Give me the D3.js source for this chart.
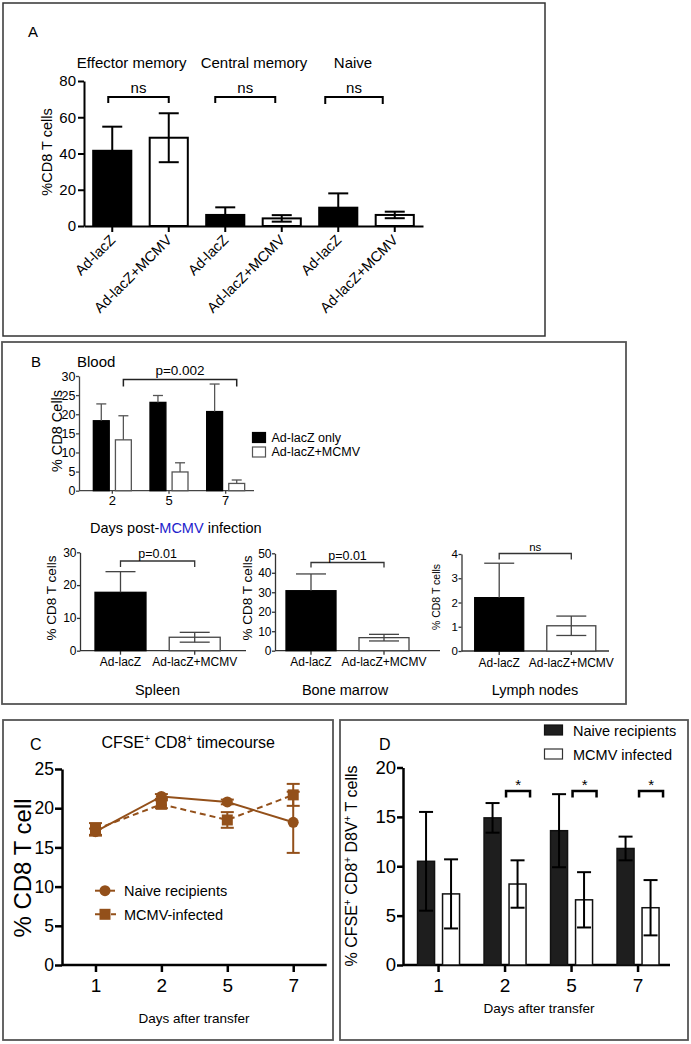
<!DOCTYPE html>
<html><head><meta charset="utf-8">
<script src="https://cdn.jsdelivr.net/npm/d3@7"></script>
<style>
body{margin:0;background:#fff;}
svg text{font-family:"Liberation Sans",Arial,Helvetica,sans-serif;fill:#000;}
</style></head><body>
<svg id="c" width="691" height="1044"></svg>
<script>
// ---------------- DATA ----------------
const aTitles = ["Effector memory","Central memory","Naive"];
const aLabels = ["Ad-lacZ","Ad-lacZ+MCMV","Ad-lacZ","Ad-lacZ+MCMV","Ad-lacZ","Ad-lacZ+MCMV"];
const aMeans = [41.5,48.7,6.1,4.2,10.1,6.1];
const aErrs  = [13.3,13.5,4.2,1.8,7.9,1.8];
const aYTicks = [0,20,40,60,80];
const aSig = ["ns","ns","ns"];

const bloodDays = ["2","5","7"];
const bloodLacZ = [18.3,23.1,20.7];
const bloodLacZErr = [4.4,1.8,7.2];
const bloodMCMV = [13.3,4.9,1.9];
const bloodMCMVErr = [6.3,2.4,0.9];
const bloodYTicks = [0,5,10,15,20,25,30];
const bloodSig = "p=0.002";
const bLegend = ["Ad-lacZ only","Ad-lacZ+MCMV"];

const organNames = ["Spleen","Bone marrow","Lymph nodes"];
const organGroups = ["Ad-lacZ","Ad-lacZ+MCMV"];
const spleenMeans = [17.8,4.1], spleenErrs = [6.3,1.5];
const marrowMeans = [30.8,6.7], marrowErrs = [8.6,1.7];
const lymphMeans  = [2.2,1.04], lymphErrs = [1.42,0.4];
const spleenTicks = [0,10,20,30], marrowTicks = [0,10,20,30,40,50], lymphTicks = [0,1,2,3,4];
const organSig = ["p=0.01","p=0.01","ns"];

const cDays = ["1","2","5","7"];
const cNaive = [17.0,21.5,20.8,18.2], cNaiveErr = [0.4,0.3,0.3,3.9];
const cMCMV  = [17.3,20.5,18.5,21.7], cMCMVErr  = [0.8,0.5,1.0,1.4];
const cYTicks = [0,5,10,15,20,25];
const cLegend = ["Naive recipients","MCMV-infected"];

const dDays = ["1","2","5","7"];
const dNaive = [10.5,14.9,13.6,11.8], dNaiveErr = [5.0,1.5,3.7,1.2];
const dMCMV  = [7.2,8.2,6.6,5.8],  dMCMVErr  = [3.5,2.4,2.8,2.8];
const dYTicks = [0,5,10,15,20];
const dSig = ["","*","*","*"];
const dLegend = ["Naive recipients","MCMV infected"];

// ---------------- HELPERS ----------------
const FONT = '"Liberation Sans",Arial,Helvetica,sans-serif';
const svg = d3.select("#c");
function box(x,y,w,h,col,sw){
  svg.append("rect").attr("x",x).attr("y",y).attr("width",w).attr("height",h)
    .attr("fill","none").attr("stroke",col).attr("stroke-width",sw);
}
function txt(g,x,y,s,size,anchor){
  return g.append("text").attr("x",x).attr("y",y).attr("text-anchor",anchor||"start")
    .style("font-size",size+"px").text(s);
}
function styleAxis(g,sw,fs,col){
  g.attr("font-family",FONT).attr("font-size",fs);
  g.select(".domain").attr("stroke",col||"#000").attr("stroke-width",sw);
  g.selectAll(".tick line").attr("stroke",col||"#000").attr("stroke-width",sw);
  g.selectAll(".tick text").attr("fill","#000");
}
function ylabel(g,x,y,s,size){
  return g.append("text").attr("transform",`translate(${x},${y}) rotate(-90)`)
    .attr("text-anchor","middle").style("font-size",size+"px").text(s);
}
// error bar: vertical line from yTop to yBot, cap at top; bottom cap only if capBottom
function errBar(g,cx,yTop,yBot,cap,col,sw,capBottom){
  g.append("line").attr("x1",cx).attr("x2",cx).attr("y1",yTop).attr("y2",yBot).attr("stroke",col).attr("stroke-width",sw);
  g.append("line").attr("x1",cx-cap/2).attr("x2",cx+cap/2).attr("y1",yTop).attr("y2",yTop).attr("stroke",col).attr("stroke-width",sw);
  if(capBottom) g.append("line").attr("x1",cx-cap/2).attr("x2",cx+cap/2).attr("y1",yBot).attr("y2",yBot).attr("stroke",col).attr("stroke-width",sw);
}
function bracket(g,x1,x2,y,leg,col,sw){
  g.append("path").attr("d",`M${x1},${y+leg}V${y}H${x2}V${y+leg}`)
    .attr("fill","none").attr("stroke",col).attr("stroke-width",sw);
}

// ---------------- PANEL A ----------------
box(3,3,542,333,"#333",1.5);
const A = svg.append("g");
txt(A,28,37,"A",15);
const aTitleX = [131.7,254,353];
aTitles.forEach((t,i)=>txt(A,aTitleX[i],68,t,15,"middle"));
const ay = d3.scaleLinear().domain([0,80]).range([226,81]);
const ax = d3.scaleBand().domain(d3.range(aMeans.length)).range([84,423]).paddingInner(0.29).paddingOuter(0.145);
A.append("g").attr("transform","translate(84,0)")
  .call(d3.axisLeft(ay).tickValues(aYTicks).tickSize(6).tickSizeOuter(0).tickPadding(2))
  .call(g=>styleAxis(g,2,15));
const axg = A.append("g").attr("transform","translate(0,226)")
  .call(d3.axisBottom(ax).tickSize(6).tickSizeOuter(0).tickFormat(i=>aLabels[i]))
  .call(g=>styleAxis(g,2,14.5));
axg.selectAll(".tick text").attr("y",null).attr("dy",null)
  .attr("transform","translate(4,15) rotate(-45)").attr("text-anchor","end");
aMeans.forEach((m,i)=>{
  A.append("rect").attr("x",ax(i)+1).attr("y",ay(m)).attr("width",ax.bandwidth()-2).attr("height",ay(0)-ay(m))
    .attr("fill",i%2?"#fff":"#000").attr("stroke","#000").attr("stroke-width",2);
  const cx = ax(i)+ax.bandwidth()/2;
  errBar(A,cx,ay(m+aErrs[i]),ay(m-aErrs[i]),20,"#000",2,true);
});
const aBrShiftL=[4,10,13], aBrShiftR=[0,6.5,12], aBrLeg=[6,6,7];
aSig.forEach((s,k)=>{
  const x1 = ax(2*k)+ax.bandwidth()/2 - aBrShiftL[k];
  const x2 = ax(2*k+1)+ax.bandwidth()/2 - aBrShiftR[k];
  bracket(A,x1,x2,97,aBrLeg[k],"#000",2);
  txt(A,(x1+x2)/2,93,s,15,"middle");
});
ylabel(A,52,152,"%CD8 T cells",14.5);

// ---------------- PANEL B ----------------
box(2,342,624,362,"#555",1.8);
const B = svg.append("g");
txt(B,31,367,"B",15);
txt(B,77,367,"Blood",15);
const by = d3.scaleLinear().domain([0,30]).range([490.7,376]);
const bx = d3.scaleBand().domain(bloodDays).range([84,254]);
const bsub = d3.scaleBand().domain([0,1]).range([-19,19]).paddingInner(0.28);
B.append("g").attr("transform","translate(79,0)")
  .call(d3.axisLeft(by).tickValues(bloodYTicks).tickSize(3).tickSizeOuter(0).tickPadding(0.5))
  .call(g=>styleAxis(g,1.3,12.5,"#444"));
const bxg = B.append("g").attr("transform","translate(0,490.7)")
  .call(d3.axisBottom(bx).tickSize(3).tickSizeOuter(0).tickPadding(2))
  .call(g=>styleAxis(g,1.3,13,"#444"));
bxg.select(".domain").attr("d","M79,0H254");
bloodDays.forEach((d,i)=>{
  const gc = bx(d)+bx.bandwidth()/2;
  [[bloodLacZ,bloodLacZErr,"#000"],[bloodMCMV,bloodMCMVErr,"#fff"]].forEach(([vals,errs,fill],j)=>{
    const x0 = gc+bsub(j);
    B.append("rect").attr("x",x0).attr("y",by(vals[i])).attr("width",bsub.bandwidth()).attr("height",by(0)-by(vals[i]))
      .attr("fill",fill).attr("stroke",j?"#555":"#000").attr("stroke-width",1.3);
    errBar(B,x0+bsub.bandwidth()/2,by(vals[i]+errs[i]),by(vals[i]),10,"#555",1.3,false);
  });
});
{
  const x1 = bx(bloodDays[0])+bx.bandwidth()/2+bsub(1)+bsub.bandwidth()/2;
  const x2 = bx(bloodDays[2])+bx.bandwidth()/2+bsub(1)+bsub.bandwidth()/2;
  bracket(B,x1,x2,379.5,7,"#222",1.5);
  txt(B,(x1+x2)/2,375,bloodSig,13.5,"middle");
}
ylabel(B,62,431,"% CD8 Cells",14.5);
const dpm = B.append("text").attr("x",90).attr("y",533).style("font-size","14.5px");
dpm.append("tspan").text("Days post-");
dpm.append("tspan").text("MCMV").style("fill","#2222cc");
dpm.append("tspan").text(" infection");
// legend
[["#000","#000"],["#fff","#555"]].forEach(([f,s],j)=>{
  B.append("rect").attr("x",252.5).attr("y",432.5+j*14.5).attr("width",13).attr("height",10)
    .attr("fill",f).attr("stroke",s).attr("stroke-width",1.2);
  txt(B,271.5,442+j*14,bLegend[j],12.5);
});

// organ sub-charts
const organData = [[spleenMeans,spleenErrs,spleenTicks],[marrowMeans,marrowErrs,marrowTicks],[lymphMeans,lymphErrs,lymphTicks]];
const organLayout = [
  {axisX:80, xr:[95,220.2], pi:0.313, xEnd:246, y0:650.7, yTop:552.3, labX:56, labY:598, labFs:13.5, tickFs:12, sigY:561, sigLeg:6, sigFs:12.5, nameX:157.5},
  {axisX:275, xr:[286,409], pi:0.315, xEnd:440, y0:650.7, yTop:553.3, labX:252, labY:598, labFs:13.5, tickFs:12, sigY:562.5, sigLeg:5, sigFs:12.5, nameX:345},
  {axisX:461.5, xr:[474.7,595.8], pi:0.32, xEnd:609, y0:651, yTop:554, labX:440, labY:597, labFs:10.5, tickFs:11.5, sigY:553.5, sigLeg:6, sigFs:11.5, nameX:535}
];
organData.forEach(([means,errs,ticks],k)=>{
  const L = organLayout[k];
  const g = B.append("g");
  const y = d3.scaleLinear().domain([0,d3.max(ticks)]).range([L.y0,L.yTop]);
  const x = d3.scaleBand().domain(organGroups).range(L.xr).paddingInner(L.pi);
  g.append("g").attr("transform",`translate(${L.axisX},0)`)
    .call(d3.axisLeft(y).tickValues(ticks).tickFormat(d3.format("d")).tickSize(3).tickSizeOuter(0).tickPadding(0.5))
    .call(a=>styleAxis(a,1.3,L.tickFs,"#333"));
  const xg = g.append("g").attr("transform",`translate(0,${L.y0})`)
    .call(d3.axisBottom(x).tickSize(4).tickSizeOuter(0).tickPadding(3))
    .call(a=>styleAxis(a,1.3,12,"#333"));
  xg.select(".domain").attr("d",`M${L.axisX},0H${L.xEnd}`);
  organGroups.forEach((grp,j)=>{
    const cx = x(grp)+x.bandwidth()/2;
    g.append("rect").attr("x",x(grp)).attr("y",y(means[j])).attr("width",x.bandwidth()).attr("height",y(0)-y(means[j]))
      .attr("fill",j?"#fff":"#000").attr("stroke",j?"#444":"#000").attr("stroke-width",1.3);
    errBar(g,cx,y(means[j]+errs[j]),j?y(means[j]-errs[j]):y(means[j]),30,"#444",1.3,!!j);
  });
  const x1 = x(organGroups[0])+x.bandwidth()/2, x2 = x(organGroups[1])+x.bandwidth()/2;
  bracket(g,x1,x2,L.sigY,L.sigLeg,"#333",1.3);
  txt(g,(x1+x2)/2,L.sigY-3,organSig[k],L.sigFs,"middle");
  ylabel(g,L.labX,L.labY,"% CD8 T cells",L.labFs);
  txt(g,L.nameX,695,organNames[k],14.5,"middle");
});

// ---------------- PANEL C ----------------
box(3,720,330,320,"#555",1.8);
const C = svg.append("g");
const BROWN = "#93501a";
txt(C,30,750,"C",16);
const ct = C.append("text").attr("x",101.5).attr("y",748).style("font-size","16px");
ct.append("tspan").text("CFSE");
ct.append("tspan").text("+").attr("dy",-6).style("font-size","10px");
ct.append("tspan").text(" CD8").attr("dy",6);
ct.append("tspan").text("+").attr("dy",-6).style("font-size","10px");
ct.append("tspan").text(" timecourse").attr("dy",6);
const cy = d3.scaleLinear().domain([0,25]).range([965,769]);
const cx = d3.scalePoint().domain(cDays).range([62,326.7]).padding(0.508);
C.append("g").attr("transform","translate(62,0)")
  .call(d3.axisLeft(cy).tickValues(cYTicks).tickSize(7).tickSizeOuter(0).tickPadding(1))
  .call(g=>styleAxis(g,2.5,17.5));
const cxg = C.append("g").attr("transform","translate(0,965)")
  .call(d3.axisBottom(cx).tickSize(7).tickSizeOuter(0).tickPadding(7))
  .call(g=>styleAxis(g,2.5,19));
cxg.select(".domain").attr("d","M62,0H326.7");
ylabel(C,31,868,"% CD8 T cell",24);
txt(C,194,1023,"Days after transfer",13.5,"middle");
const series = [[cNaive,cNaiveErr,null,"circle"],[cMCMV,cMCMVErr,"6,4","square"]];
series.forEach(([vals,errs,dash])=>{
  const pts = cDays.map((d,i)=>({d,v:vals[i],e:errs[i]}));
  C.append("path").datum(pts).attr("d",d3.line().x(p=>cx(p.d)).y(p=>cy(p.v)))
    .attr("fill","none").attr("stroke",BROWN).attr("stroke-width",2).attr("stroke-dasharray",dash);
});
series.forEach(([vals,errs,dash,shape])=>{
  cDays.forEach((d,i)=>{
    errBar(C,cx(d),cy(vals[i]+errs[i]),cy(vals[i]-errs[i]),13,BROWN,2,true);
    if(shape==="circle") C.append("circle").attr("cx",cx(d)).attr("cy",cy(vals[i])).attr("r",5.5).attr("fill",BROWN);
    else C.append("rect").attr("x",cx(d)-5.5).attr("y",cy(vals[i])-5.5).attr("width",11).attr("height",11).attr("fill",BROWN);
  });
});
// legend C
C.append("line").attr("x1",95).attr("x2",115).attr("y1",890.7).attr("y2",890.7).attr("stroke",BROWN).attr("stroke-width",2);
C.append("circle").attr("cx",105).attr("cy",890.7).attr("r",5.5).attr("fill",BROWN);
txt(C,124,896,cLegend[0],14.5);
C.append("line").attr("x1",95).attr("x2",117).attr("y1",914.3).attr("y2",914.3).attr("stroke",BROWN).attr("stroke-width",2).attr("stroke-dasharray","5,3");
C.append("rect").attr("x",99.5).attr("y",908.8).attr("width",11).attr("height",11).attr("fill",BROWN);
txt(C,124,920,cLegend[1],14.5);

// ---------------- PANEL D ----------------
box(340,720,348,320,"#555",1.8);
const D = svg.append("g");
txt(D,379,750,"D",16);
const dy = d3.scaleLinear().domain([0,20]).range([965,767.5]);
const dx = d3.scaleBand().domain(dDays).range([405.3,671.3]);
const dsub = d3.scaleBand().domain([0,1]).range([-21,21]).paddingInner(0.32);
D.append("g").attr("transform","translate(403,0)")
  .call(d3.axisLeft(dy).tickValues(dYTicks).tickSize(6).tickSizeOuter(0).tickPadding(1))
  .call(g=>styleAxis(g,2.5,18.5));
const dxg = D.append("g").attr("transform","translate(0,965)")
  .call(d3.axisBottom(dx).tickSize(7).tickSizeOuter(0).tickPadding(7))
  .call(g=>styleAxis(g,2.5,19));
dxg.select(".domain").attr("d","M403,0H670");
dDays.forEach((d,i)=>{
  const gc = dx(d)+dx.bandwidth()/2;
  [[dNaive,dNaiveErr,"#1e1e1e"],[dMCMV,dMCMVErr,"#fff"]].forEach(([vals,errs,fill],j)=>{
    const x0 = gc+dsub(j);
    D.append("rect").attr("x",x0).attr("y",dy(vals[i])).attr("width",dsub.bandwidth()).attr("height",dy(0)-dy(vals[i]))
      .attr("fill",fill).attr("stroke","#111").attr("stroke-width",1.5);
    errBar(D,x0+dsub.bandwidth()/2,dy(vals[i]+errs[i]),dy(vals[i]-errs[i]),14,"#000",2,true);
  });
  if(dSig[i]){
    bracket(D,gc+1,gc+25,791,6.5,"#000",2.5);
    txt(D,gc+13,790,dSig[i],15,"middle");
  }
});
const dl = D.append("text").attr("transform","translate(357,866) rotate(-90)").attr("text-anchor","middle").style("font-size","16px");
[["% CFSE",0],["+",1],[" CD8",0],["+",1],[" D8V",0],["+",1],[" T cells",0]].forEach(([s,sup])=>{
  dl.append("tspan").text(s).attr("dy",sup?-6:(s==="% CFSE"?0:6)).style("font-size",sup?"10px":"16px");
});
txt(D,539,1013,"Days after transfer",13.5,"middle");
[["#1e1e1e","#111"],["#fff","#333"]].forEach(([f,s],j)=>{
  D.append("rect").attr("x",544.5).attr("y",725+j*24).attr("width",18).attr("height",10)
    .attr("fill",f).attr("stroke",s).attr("stroke-width",1.2);
  txt(D,573,736+j*24,dLegend[j],14.5);
});
</script>
</body></html>
